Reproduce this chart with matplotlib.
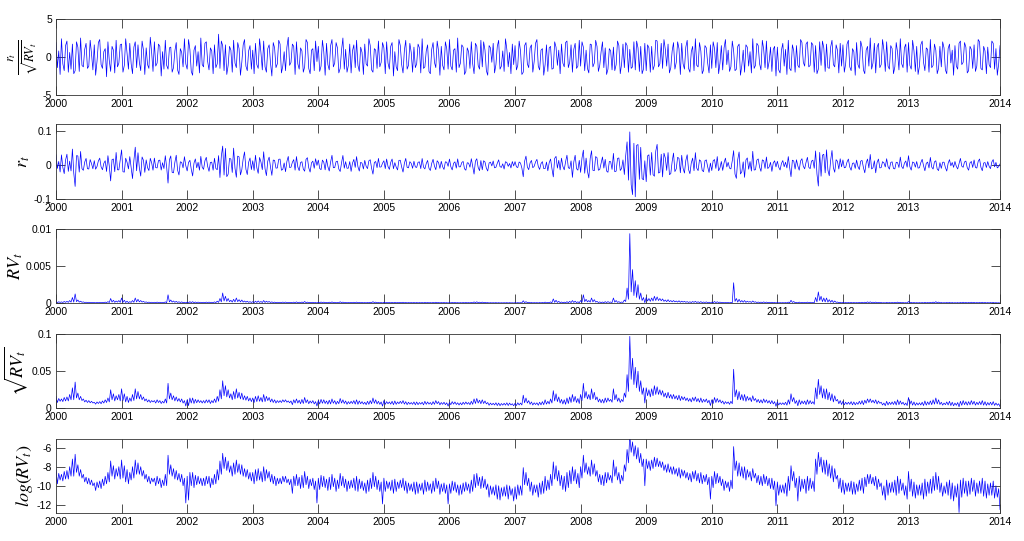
import matplotlib
matplotlib.use("Agg")
import matplotlib.pyplot as plt
import numpy as np

plt.rcParams['font.family'] = ['Liberation Sans', 'DejaVu Sans']
plt.rcParams['mathtext.fontset'] = 'stix'

# half-month high of log(RV_t), Jan 2000 .. May 2014 (one row per year)
logrv_hi = [
    -8.3, -8.7, -8.8, -8.5, -8.4, -8.0, -7.2, -6.7, -7.8, -8.3, -8.8, -9.1, -9.2, -9.4, -9.7, -9.6, -9.5, -9.3, -9.0, -8.6, -7.4, -7.9, -8.2, -8.0,
    -7.3, -7.9, -8.3, -8.6, -8.0, -7.3, -7.6, -8.0, -8.4, -8.8, -9.0, -9.2, -9.2, -9.0, -9.2, -9.4, -8.8, -6.8, -7.8, -8.2, -8.4, -8.7, -8.8, -9.2,
    -9.0, -8.6, -8.6, -8.9, -9.0, -9.2, -9.2, -9.0, -9.0, -9.2, -8.8, -8.3, -7.4, -6.6, -7.0, -7.4, -7.9, -7.6, -7.3, -7.7, -7.8, -8.2, -8.3, -8.6,
    -8.6, -8.3, -8.2, -8.5, -8.0, -8.3, -8.5, -8.8, -9.0, -9.2, -9.2, -9.0, -9.0, -9.3, -9.3, -9.0, -8.8, -9.1, -8.9, -8.5, -9.0, -9.3, -9.2, -9.5,
    -9.2, -8.9, -9.0, -9.3, -9.1, -8.8, -9.2, -9.4, -8.7, -9.0, -9.3, -9.5, -9.4, -9.2, -9.0, -9.3, -9.5, -9.7, -9.4, -9.2, -8.6, -9.0, -9.4, -9.6,
    -9.2, -9.5, -9.6, -9.4, -9.3, -9.6, -9.4, -9.2, -9.5, -9.7, -9.8, -9.6, -9.6, -9.8, -9.7, -9.4, -9.6, -9.8, -9.5, -9.2, -9.5, -9.8, -9.7, -9.9,
    -9.8, -9.5, -9.6, -9.9, -9.9, -9.7, -9.6, -9.8, -9.4, -8.8, -8.7, -9.1, -9.0, -9.3, -9.8, -10.0, -10.1, -9.9, -10.0, -10.2, -10.1, -9.9, -10.0, -10.3,
    -10.1, -9.9, -10.0, -8.1, -8.6, -9.2, -9.6, -9.9, -9.9, -9.7, -9.5, -9.0, -9.4, -8.8, -7.5, -7.9, -8.4, -8.9, -9.0, -8.6, -8.4, -8.0, -8.3, -8.7,
    -8.0, -6.8, -7.6, -8.0, -7.3, -7.7, -8.4, -8.8, -8.9, -8.6, -8.6, -8.9, -7.3, -8.0, -8.6, -8.9, -7.8, -6.2, -4.67, -5.4, -5.8, -6.0, -6.6, -7.2,
    -7.2, -7.4, -7.3, -7.0, -7.1, -7.4, -7.5, -7.8, -7.7, -8.0, -8.0, -8.2, -8.1, -8.3, -8.4, -8.6, -8.7, -8.5, -8.4, -8.7, -8.6, -8.9, -8.8, -9.1,
    -9.0, -8.5, -8.7, -9.0, -9.3, -9.5, -9.6, -9.4, -5.9, -7.4, -7.6, -8.0, -8.0, -8.3, -8.5, -8.2, -8.7, -8.9, -9.0, -8.8, -9.0, -9.2, -9.2, -9.5,
    -9.6, -9.9, -9.9, -9.7, -9.0, -7.9, -8.5, -9.2, -9.0, -9.3, -9.3, -9.0, -9.2, -9.5, -7.2, -6.5, -7.0, -7.3, -7.3, -7.7, -7.9, -8.2, -8.9, -9.2,
    -9.4, -9.7, -9.7, -9.5, -9.6, -9.8, -9.4, -9.2, -9.1, -8.8, -8.8, -9.1, -9.0, -9.3, -9.7, -10.0, -9.4, -9.7, -9.6, -9.4, -9.0, -9.3, -9.7, -10.0,
    -8.5, -9.3, -9.6, -9.9, -9.9, -9.7, -9.3, -9.6, -9.3, -9.0, -8.6, -9.0, -9.7, -10.0, -9.6, -9.4, -9.7, -10.0, -9.8, -9.4, -9.2, -9.5, -9.5, -9.2,
    -9.4, -9.7, -9.5, -9.2, -9.5, -9.8, -9.7, -9.5, -10.0, -10.3,
]
# half-month low of log(RV_t)
logrv_lo = [
    -9.8, -9.4, -9.5, -9.3, -9.3, -9.0, -9.0, -8.6, -9.0, -9.2, -9.6, -9.8, -9.9, -10.0, -10.5, -10.2, -10.3, -10.0, -9.8, -9.6, -9.0, -9.3, -9.0, -9.3,
    -9.2, -9.6, -9.8, -9.4, -9.2, -8.8, -8.8, -9.0, -9.3, -9.6, -9.8, -9.6, -10.0, -9.8, -10.2, -10.0, -10.0, -8.8, -9.0, -9.3, -9.4, -9.6, -10.0, -11.8,
    -11.5, -10.0, -10.2, -9.9, -9.8, -10.0, -10.0, -9.8, -10.2, -9.9, -9.8, -9.4, -8.8, -8.2, -8.4, -8.6, -9.0, -8.8, -8.6, -8.8, -9.0, -9.1, -9.3, -9.5,
    -9.8, -9.5, -9.4, -9.6, -9.5, -9.2, -9.6, -9.8, -10.0, -9.8, -9.8, -9.6, -9.7, -9.9, -10.8, -10.0, -10.0, -10.3, -10.2, -9.9, -10.3, -10.0, -10.4, -11.8,
    -10.4, -10.1, -10.2, -10.5, -10.4, -10.1, -10.6, -10.3, -10.0, -10.2, -10.6, -10.3, -10.2, -10.5, -10.6, -10.3, -10.5, -10.8, -10.6, -10.3, -10.1, -10.4, -10.6, -11.9,
    -10.6, -10.3, -10.5, -10.8, -10.6, -10.3, -10.2, -10.5, -10.8, -10.5, -10.6, -10.9, -10.8, -10.5, -10.9, -10.6, -10.5, -10.8, -10.6, -10.3, -10.9, -10.6, -10.8, -11.9,
    -10.8, -10.5, -10.7, -11.0, -10.9, -10.6, -10.5, -10.8, -10.6, -10.2, -10.0, -10.3, -10.2, -10.4, -11.2, -10.9, -11.0, -11.4, -11.5, -11.1, -11.1, -11.4, -11.0, -11.6,
    -11.4, -11.0, -11.0, -9.9, -10.0, -10.6, -11.0, -10.7, -11.2, -10.9, -10.8, -10.5, -10.4, -10.0, -9.3, -9.5, -10.0, -10.4, -10.6, -10.2, -9.8, -9.5, -9.8, -10.2,
    -9.2, -8.6, -8.8, -9.0, -8.8, -9.0, -9.6, -9.9, -10.0, -9.7, -9.4, -9.7, -9.0, -9.4, -9.8, -9.5, -8.5, -7.6, -6.5, -6.9, -7.2, -7.6, -8.0, -10.0,
    -8.2, -8.4, -8.2, -8.0, -8.0, -8.1, -8.4, -8.6, -8.6, -8.8, -8.8, -9.0, -9.2, -9.0, -9.2, -9.4, -9.6, -9.3, -9.5, -9.7, -9.8, -9.6, -9.9, -11.4,
    -10.2, -9.8, -9.7, -10.0, -10.5, -10.2, -10.6, -10.3, -8.4, -9.0, -9.0, -9.2, -9.4, -9.1, -9.5, -9.2, -9.7, -9.9, -10.0, -9.8, -10.0, -10.3, -10.4, -12.1,
    -11.0, -10.7, -10.8, -11.1, -10.5, -9.5, -10.2, -11.6, -10.6, -10.3, -10.8, -10.5, -10.3, -10.6, -8.8, -8.0, -8.6, -8.8, -9.0, -9.2, -9.6, -9.3, -10.3, -10.7,
    -10.9, -10.6, -10.6, -10.9, -10.9, -10.6, -10.5, -10.8, -10.1, -9.8, -9.8, -10.0, -10.4, -10.1, -11.0, -11.5, -11.0, -10.7, -10.7, -11.0, -10.8, -10.5, -11.0, -11.4,
    -10.6, -11.1, -11.3, -11.0, -11.0, -11.4, -11.1, -10.8, -10.8, -10.5, -10.4, -10.7, -11.1, -10.8, -11.0, -11.4, -11.6, -11.2, -12.8, -11.2, -10.8, -11.1, -10.9, -10.6,
    -11.1, -10.8, -10.8, -11.1, -11.3, -11.0, -11.0, -11.3, -11.2, -12.5,
]

# standardized returns r_t / sqrt(RV_t), four readings per month (top panel)
z = [
    1.9, -1.4, 0.8, -2.3, 2.4, -0.9, -1.8, 1.5, 2.1, -2.0, 0.6, -1.6, 1.7, -2.2, -1.8, 2.0, 1.3, -1.9, 2.5, -1.1, -1.3, 1.0, 1.8, -1.5,
    -1.2, 2.2, 0.4, -1.7, 1.6, -2.4, -0.6, 1.9, 2.3, -1.0, -1.5, 0.7, 1.1, -2.6, 2.0, -0.5, -1.9, 1.4, 0.9, -2.1, 2.2, -1.3, -0.8, 1.6,
    1.7, -2.0, -1.1, 2.4, 0.5, -1.6, 1.8, -0.9, -2.2, 1.3, 2.0, -1.4, 1.6, -0.7, -1.8, 2.1, 0.9, -2.3, 1.2, -1.0, -1.5, 2.6, 0.6, -1.9,
    2.0, -1.2, -0.8, 1.7, 1.4, -2.5, 0.7, -1.6, 2.2, -1.1, -1.6, 1.2, 1.3, -2.0, -1.4, 0.8, 1.9, -1.7, -2.3, 1.1, 0.6, -1.3, 2.4, -0.9,
    -1.6, 2.3, 1.0, -1.9, -2.4, 0.9, 1.5, -1.2, 0.7, -2.1, 2.5, -1.0, -1.3, 1.8, 2.0, -0.6, -1.7, 1.2, 0.8, -2.2, 1.6, -1.4, -0.9, 3.0,
    -1.5, 2.1, 1.5, -1.8, 1.6, -2.3, -1.1, 1.4, 0.9, -2.0, 2.2, -0.8, -1.4, 1.9, 1.1, -2.4, -0.7, 1.6, 2.3, -1.2, -1.8, 0.8, 1.5, -1.6,
    0.9, -2.2, 1.8, -1.0, -1.5, 2.4, 0.6, -1.7, 2.1, -1.3, -2.0, 1.1, 1.6, -0.8, -2.5, 1.9, 1.2, -1.4, -0.9, 2.2, 1.7, -2.1, -1.2, 0.7,
    -1.8, 1.3, 2.6, -1.1, -0.7, 1.7, 1.4, -2.3, 2.0, -0.9, -1.6, 1.2, 0.8, -2.0, -1.3, 2.3, 1.9, -1.5, -2.2, 0.9, 1.1, -1.8, 2.1, -0.6,
    1.4, -1.9, -1.2, 2.2, 0.7, -2.4, 1.8, -1.0, -1.7, 1.5, 2.3, -1.3, -0.8, 1.9, 1.2, -2.1, -1.5, 0.9, 2.5, -1.6, 1.0, -2.0, -1.1, 1.7,
    -2.1, 0.8, 1.6, -1.4, 2.2, -1.1, -1.9, 1.3, 0.6, -2.3, 1.7, -0.9, -1.2, 2.4, 1.5, -1.7, -2.0, 1.1, 0.9, -1.5, 2.1, -1.3, -0.7, 1.9,
    1.2, -2.2, 2.0, -0.8, -1.6, 1.4, 1.9, -2.5, 0.7, -1.3, -1.8, 2.3, 1.5, -1.0, -2.1, 0.9, 2.2, -1.6, -1.1, 1.8, 0.6, -2.0, 1.3, -1.4,
    -0.9, 1.7, 1.2, -2.1, 2.4, -1.5, -1.3, 0.8, 1.6, -1.9, -2.2, 1.0, 1.9, -0.7, -1.4, 2.1, 0.8, -2.4, 1.4, -1.1, -1.7, 2.0, 1.1, -1.6,
    2.3, -1.2, -1.7, 0.9, 1.1, -2.0, 2.5, -1.4, -0.8, 1.6, 1.3, -2.3, -1.9, 1.2, 0.7, -1.5, 2.0, -0.9, -2.2, 1.8, 1.4, -1.1, -1.6, 2.2,
    -1.3, 2.0, 0.9, -1.8, -2.4, 1.5, 1.2, -0.7, 1.8, -2.1, -1.0, 1.4, 2.2, -1.6, -1.2, 0.8, -1.9, 2.4, 1.0, -1.3, 0.6, -2.2, 1.7, -1.0,
    1.5, -1.7, -1.1, 2.1, 0.8, -2.3, -2.0, 1.5, 1.9, -0.9, -1.4, 1.2, 1.6, -2.0, -0.6, 1.8, 2.3, -1.2, -1.7, 0.9, 1.1, -2.4, -1.0, 1.6,
    -1.9, 1.2, 1.4, -1.6, -1.5, 2.0, 1.3, -1.1, 0.9, -2.2, 1.7, -0.8, -1.3, 1.9, 2.1, -1.4, -0.7, 1.6, -2.0, 1.0, 1.8, -1.5, -1.2, 2.2,
    -1.2, 2.0, 1.3, -1.8, 0.9, -1.5, -2.1, 1.7, 1.6, -1.3, -0.8, 2.2, 1.4, -1.9, -1.1, 0.7, 2.0, -1.4, 1.2, -2.3, -1.6, 1.1, 0.8, -1.7,
    1.3, -1.8, -1.0, 2.1, 1.5, -2.2, -0.9, 1.7, -1.4, 1.9, 1.5, -2.0, 1.0, -1.5, -1.3, 2.0, -1.7, 2.1, 1.2, -1.9, 1.4, -2.2, -1.6, 1.8,
    -1.8, 1.6, 1.2, -2.0, 1.4, -1.7, -1.1, 2.2, 2.1, -1.3, -0.9, 1.8, -1.5, 2.3, 1.0, -1.2, 1.7, -2.1, -1.4, 0.8, 1.9, -1.6, -0.7, 2.0,
    1.1, -2.3, 1.8, -0.9, -1.6, 1.3, 2.2, -1.5, -2.0, 0.7, 1.4, -1.8, 2.4, -1.1, -1.3, 1.9, 0.8, -2.2, -1.7, 1.5, 1.2, -0.8, -2.1, 1.6,
    -1.5, 2.0, 1.1, -1.4, 1.9, -2.2, -0.8, 1.5, -1.7, 1.2, 2.3, -1.0, 0.9, -1.9, -1.3, 2.1, 0.8, -1.8, -1.6, 1.4, 1.7, -2.4, -1.1, 0.9,
    -2.0, 1.6, 1.3, -1.2, 0.7, -2.1, 2.4, -1.5, -1.1, 1.8, 1.5, -0.9, -1.7, 2.2, 1.0, -1.4, 2.1, -1.6, -0.6, 1.3, -1.9, 1.0, 1.4, -2.5,
    1.3, -1.7, -2.1, 0.9, 1.8, -1.2, 1.0, -2.3, 2.2, -1.5, -1.8, 1.6, 0.8, -2.0, 1.5, -1.1, -1.4, 2.3, 1.9, -0.7, -1.2, 1.7, 2.0, -1.3,
    -1.1, 1.9, 1.6, -2.0, 1.5, -2.2, -1.6, 2.0, -1.1, 2.1, 1.2, -1.9, 1.7, -1.4, -1.5, 1.3, 2.2, -1.0, -1.3, 1.6, 0.9, -2.1, 1.8, -1.2,
    1.6, -2.0, -0.9, 1.7, 2.2, -1.3, -1.8, 1.1, 0.7, -2.4, 1.9, -1.0, -1.5, 2.1, 1.3, -1.7, -2.2, 0.9, 1.4, -1.2, 2.5, -1.6, -0.8, 1.8,
    -2.1, 1.3, 1.8, -1.4, -1.0, 2.3, 0.9, -1.9, 2.0, -1.2, -1.6, 1.5, 1.1, -2.2, -1.3, 1.9, 0.6, -1.7, 2.4, -0.9, -1.4, 1.2, 1.7, -2.0,
    1.9, -1.1, -1.6, 2.2, 0.8, -1.9, 1.4, -2.3, -1.2, 1.6, 2.1, -0.7, -1.8, 1.2, 1.0, -2.0, 2.3, -1.4, -1.1, 1.7, 0.9, -2.2, -1.5, 1.4,
    -1.3, 2.0, 1.2, -1.7, -2.2, 1.1, 1.7, -0.8, 0.9, -2.4, 1.5, -1.2, -1.6, 1.8, 2.1, -1.0, -0.7, 1.9, 1.3, -2.1, -1.8, 1.4, 1.0, -1.5,
    1.6, -1.9, -1.2, 2.3, 2.0, -1.5, -1.7, 1.4, 0.8, -2.2, 1.3, -1.0, -1.4, 2.1, 1.8, -1.6, 1.1, -2.4, -0.9, 1.5,
]

year_labels = [str(y) for y in range(2000, 2015)]

logrv = np.column_stack([logrv_hi, logrv_lo]).ravel()
t = 2000 + np.arange(len(logrv)) / 48.0
rv = np.exp(logrv)
sqrt_rv = np.sqrt(rv)
r = np.array(z) * sqrt_rv

fig = plt.figure(figsize=(10.24, 5.41), dpi=100)
left, width = 0.0547, 0.9219
rects = [(0.8244, 0.1405), (0.6322, 0.1386), (0.4399, 0.1368),
         (0.2458, 0.1368), (0.0518, 0.1368)]

series = [z, r, rv, sqrt_rv, logrv]
ylabels = [r'$\frac{r_t}{\sqrt{RV_t}}$', r'$r_t$', r'$RV_t$',
           r'$\sqrt{RV_t}$', r'$log(RV_t)$']
ylims = [(-5, 5), (-0.1, 0.12), (0, 0.01), (0, 0.1), (-12.85, -5.1)]
yticks = [[-5, 0, 5], [-0.1, 0, 0.1], [0, 0.005, 0.01], [0, 0.05, 0.1],
          [-12, -10, -8, -6]]
xticks = list(range(2000, 2014)) + [t[-1]]

for (b, h), y, lab, yl, yt in zip(rects, series, ylabels, ylims, yticks):
    ax = fig.add_axes([left, b, width, h])
    ax.plot(t, y, color='#0000ff', lw=0.5)
    ax.set_xlim(t[0], t[-1])
    ax.set_ylim(*yl)
    ax.set_yticks(yt, labels=[f'{v:g}' for v in yt])
    ax.set_xticks(xticks, labels=year_labels)
    ax.set_ylabel(lab, fontsize=13, labelpad=1)
    ax.tick_params(direction='in', length=6.5, width=0.6, colors='#333333',
                   labelcolor='black', labelsize=7.5, top=True, right=True, pad=3)
    for s in ax.spines.values():
        s.set_color('#333333')
        s.set_linewidth(0.6)

fig.savefig('out.png', dpi=100)
